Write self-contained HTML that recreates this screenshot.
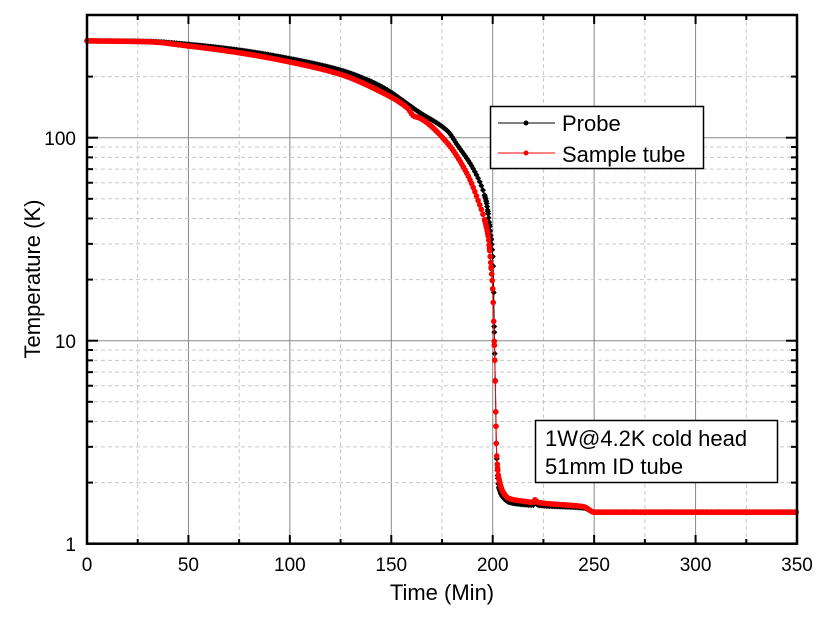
<!DOCTYPE html>
<html><head><meta charset="utf-8"><style>
body{margin:0;background:#fff;}
text{font-family:"Liberation Sans",Arial,sans-serif;}
</style></head><body>
<svg id="s" width="829" height="616" xmlns="http://www.w3.org/2000/svg">
<g id="grid"></g>
<g id="data"></g>
<rect x="87" y="15" width="710" height="528.7" fill="none" stroke="#000" stroke-width="2.5"/>
<g id="ticks"></g>
<g font-size="19" fill="#000">
<text x="76" y="145" text-anchor="end">100</text>
<text x="76" y="348" text-anchor="end">10</text>
<text x="76" y="551" text-anchor="end">1</text>
</g>
<g font-size="19" text-anchor="middle" id="xl"></g>
<text x="442" y="600" font-size="22" text-anchor="middle">Time (Min)</text>
<text transform="translate(40,279) rotate(-90)" font-size="22" text-anchor="middle">Temperature (K)</text>
<rect x="490.5" y="106.5" width="213" height="62" fill="#fff" stroke="#000" stroke-width="1.5"/>
<line x1="498" y1="123" x2="555" y2="123" stroke="#000" stroke-width="1"/>
<circle cx="526" cy="123" r="2.5" fill="#000"/>
<text x="562" y="131" font-size="22">Probe</text>
<line x1="498" y1="153" x2="555" y2="153" stroke="#f00" stroke-width="1"/>
<circle cx="526" cy="153" r="2.5" fill="#f00"/>
<text x="562" y="162" font-size="22">Sample tube</text>
<rect x="535.5" y="420.5" width="242" height="62" fill="#fff" stroke="#000" stroke-width="1.5"/>
<text x="545" y="446" font-size="22">1W@4.2K cold head</text>
<text x="545" y="474" font-size="22">51mm ID tube</text>
</svg>
<script>
var NS="http://www.w3.org/2000/svg";
function X(t){return 87+t*710/350;}
function Y(T){return 543.7-Math.log10(T)*203;}
function el(p,n,a){var e=document.createElementNS(NS,n);for(var k in a)e.setAttribute(k,a[k]);p.appendChild(e);return e;}
var g=document.getElementById('grid'),tk=document.getElementById('ticks'),xl=document.getElementById('xl');
for(var t=25;t<350;t+=25){var maj=t%50==0;el(g,'line',{x1:X(t),x2:X(t),y1:15,y2:543.7,stroke:maj?'#888':'#c8c8c8','stroke-width':1,'stroke-dasharray':maj?'':'4,3'});
el(tk,'line',{x1:X(t),x2:X(t),y1:543.7,y2:maj?535:539,stroke:'#000','stroke-width':2});el(tk,'line',{x1:X(t),x2:X(t),y1:15,y2:maj?24:20,stroke:'#000','stroke-width':2});}
for(var t=0;t<=350;t+=50){el(xl,'text',{x:X(t),y:571}).textContent=t;}
[1,10,100].forEach(function(d){for(var m=1;m<=9;m++){var v=d*m;if(v>200)break;var y=Y(v);var maj=m==1;
if(v>1&&v<=200){el(g,'line',{x1:87,x2:797,y1:y,y2:y,stroke:maj?'#888':'#c8c8c8','stroke-width':1,'stroke-dasharray':maj?'':'4,3'});}
el(tk,'line',{x1:87,x2:maj?98:93,y1:y,y2:y,stroke:'#000','stroke-width':2});el(tk,'line',{x1:797,x2:maj?786:791,y1:y,y2:y,stroke:'#000','stroke-width':2});}});
var P=[[0,300],[30,298],[50,288],[75,270],[100,245],[125,215],[144,181],[164,133],[177.7,108],[182.6,92],[190.5,70],[196.5,50],[199,33],[200.2,24],[200.8,11],[201.3,6],[201.8,3],[202.5,2.1],[203,1.9],[205,1.7],[208,1.6],[215,1.56],[220,1.55],[221,1.6],[222,1.55],[245,1.5],[250,1.43],[350,1.43]];
var S=[[0,300],[30,297],[50,283],[75,262],[100,236],[125,205],[144,170],[158,140],[161,128],[164,125],[177.7,94],[187.5,66],[192.5,50],[197.5,34],[199.2,23],[200,18],[200.8,9.5],[201.3,6],[201.8,3],[202.5,2.3],[203,2.1],[205,1.8],[208,1.67],[215,1.62],[220,1.6],[221,1.65],[222,1.6],[245,1.52],[250,1.43],[350,1.43]];
function mk(A){var n=A.length,x=A.map(function(a){return a[0]}),y=A.map(function(a){return Math.log10(a[1])}),d=[],m=[];
for(var i=0;i<n-1;i++)d.push((y[i+1]-y[i])/(x[i+1]-x[i]));
m[0]=d[0];m[n-1]=d[n-2];for(i=1;i<n-1;i++){m[i]=(d[i-1]*d[i]<=0)?0:2/(1/d[i-1]+1/d[i]);}
return function(t){for(var i=0;i<n-1;i++){if(t<=x[i+1]){var h=x[i+1]-x[i],s=(t-x[i])/h,s2=s*s,s3=s2*s;
var v=(2*s3-3*s2+1)*y[i]+(s3-2*s2+s)*h*m[i]+(-2*s3+3*s2)*y[i+1]+(s3-s2)*h*m[i+1];return Math.pow(10,v);}}return A[n-1][1];};}
var D=document.getElementById('data');
function draw(A,c,diamond){var f=mk(A);var ts=[];for(var t=0;t<=350;t+=0.8)ts.push(t);for(t=196;t<=206;t+=0.25)ts.push(t);ts.sort(function(a,b){return a-b;});
var pts=ts.map(function(t){return X(t).toFixed(1)+','+Y(f(t)).toFixed(1);});
el(D,'polyline',{points:pts.join(' '),fill:'none',stroke:c,'stroke-width':1});
ts.forEach(function(t){var x=X(t),y=Y(f(t));if(diamond)el(D,'path',{d:'M'+x+' '+(y-3)+'L'+(x+3)+' '+y+'L'+x+' '+(y+3)+'L'+(x-3)+' '+y+'Z',fill:c});else el(D,'circle',{cx:x,cy:y,r:2.8,fill:c});});}
draw(P,'#000',true);draw(S,'#f00',false);
</script>
</body></html>
